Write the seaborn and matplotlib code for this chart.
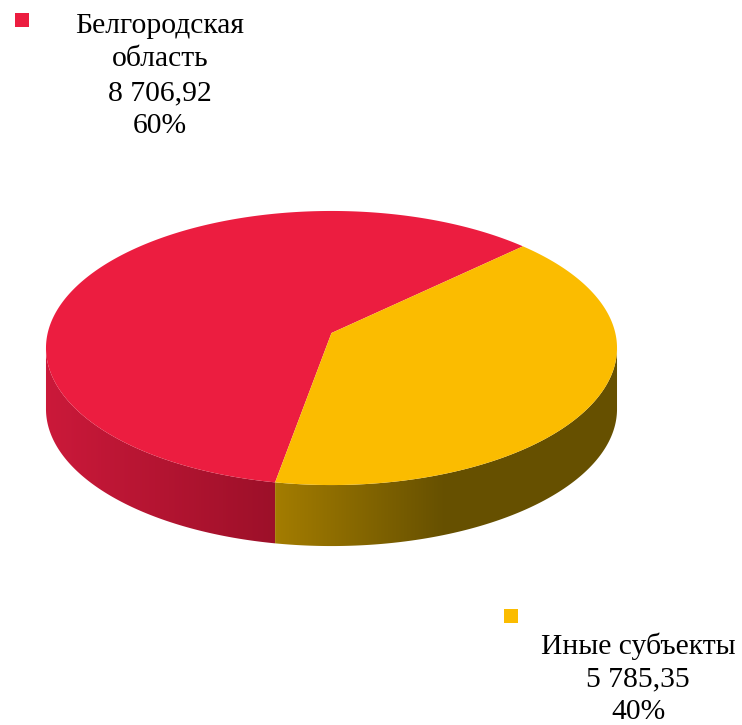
import numpy as np
import matplotlib
matplotlib.use("Agg")
import matplotlib.pyplot as plt
import seaborn as sns
from matplotlib.patches import Polygon

# ---- data ----
categories = ["Белгородская\nобласть", "Иные субъекты"]
values = [8706.92, 5785.35]
value_labels = ["8 706,92", "5 785,35"]
top_colors = ["#EC1D40", "#FBBC00"]

sns.set_theme(style="white")
plt.rcParams["font.family"] = ["Liberation Serif", "DejaVu Serif"]

W, H = 742, 725
fig = plt.figure(figsize=(W / 100, H / 100), dpi=100)
ax = fig.add_axes([0, 0, 1, 1])

# perspective view of the pie disc (pixels)
ox, oy = 331.5, 333.0      # projected centre of the disc
R, S, K = 283.8, 135.4, 0.1095
depth = 61.0
start = 43.5


def project(theta_deg):
    th = np.radians(theta_deg)
    u, v = np.cos(th), np.sin(th)
    f = 1.0 + K * v
    return ox + R * u / f, oy - S * v / f


# angles come from the library's pie layout
wedges, _ = ax.pie(values, startangle=start, counterclock=True,
                   center=(0, 0), radius=1, wedgeprops=dict(linewidth=0))
angles = [(w.theta1, w.theta2) for w in wedges]
for w in wedges:
    w.remove()

# side walls (front half), horizontal gradients
wall_grad = [
    ((46, (203, 25, 58)), (277, (156, 16, 41))),
    ((277, (163, 124, 0)), (445, (102, 80, 0))),
]
t_left = 180 + np.degrees(np.arcsin(K))
t_right = 360 - np.degrees(np.arcsin(K))
xs = np.arange(W)
for i, (a0, a1) in enumerate(angles):
    segs = []
    for off in (0, 360, -360):
        lo, hi = max(a0, t_left + off), min(a1, t_right + off)
        if hi > lo:
            segs.append((lo - off, hi - off))
    (x0, c0), (x1, c1) = wall_grad[i]
    t = np.clip((xs - x0) / (x1 - x0), 0, 1)[:, None]
    row = (np.array(c0) * (1 - t) + np.array(c1) * t) / 255.0
    img = np.repeat(row[None, :, :], H, axis=0)
    for lo, hi in segs:
        px, py = project(np.linspace(lo, hi, 300))
        verts = np.concatenate([np.column_stack([px, py]),
                                np.column_stack([px[::-1], py[::-1] + depth])])
        poly = Polygon(verts, closed=True, facecolor="none", edgecolor="none")
        ax.add_patch(poly)
        im = ax.imshow(img, extent=(0, W, H, 0), aspect="auto", zorder=2,
                       interpolation="bilinear")
        im.set_clip_path(poly)

# top faces
for i, (a0, a1) in enumerate(angles):
    px, py = project(np.linspace(a0, a1, 400))
    vx = np.concatenate([[ox], px])
    vy = np.concatenate([[oy], py])
    ax.fill(vx, vy, color=top_colors[i], linewidth=0, zorder=5)

# legend-style labels
total = sum(values)
pct = [f"{round(v / total * 100):d}%" for v in values]
label_pos = [(160, [26, 59, 93, 126], (22, 20)), (638, [646, 679, 712], (511, 616))]
for i in range(len(values)):
    tx, ys, (mx, my) = label_pos[i]
    lines = categories[i].split("\n") + [value_labels[i], pct[i]]
    for line, y in zip(lines, ys):
        ax.text(tx, y, line, ha="center", va="center", fontsize=21.3,
                color="black", zorder=10)
    ax.scatter([mx], [my], marker="s", s=105, color=top_colors[i],
               linewidths=0, zorder=10)

ax.set_aspect("auto")
ax.set_xlim(0, W)
ax.set_ylim(H, 0)
ax.axis("off")
fig.savefig("out.png", dpi=100)
